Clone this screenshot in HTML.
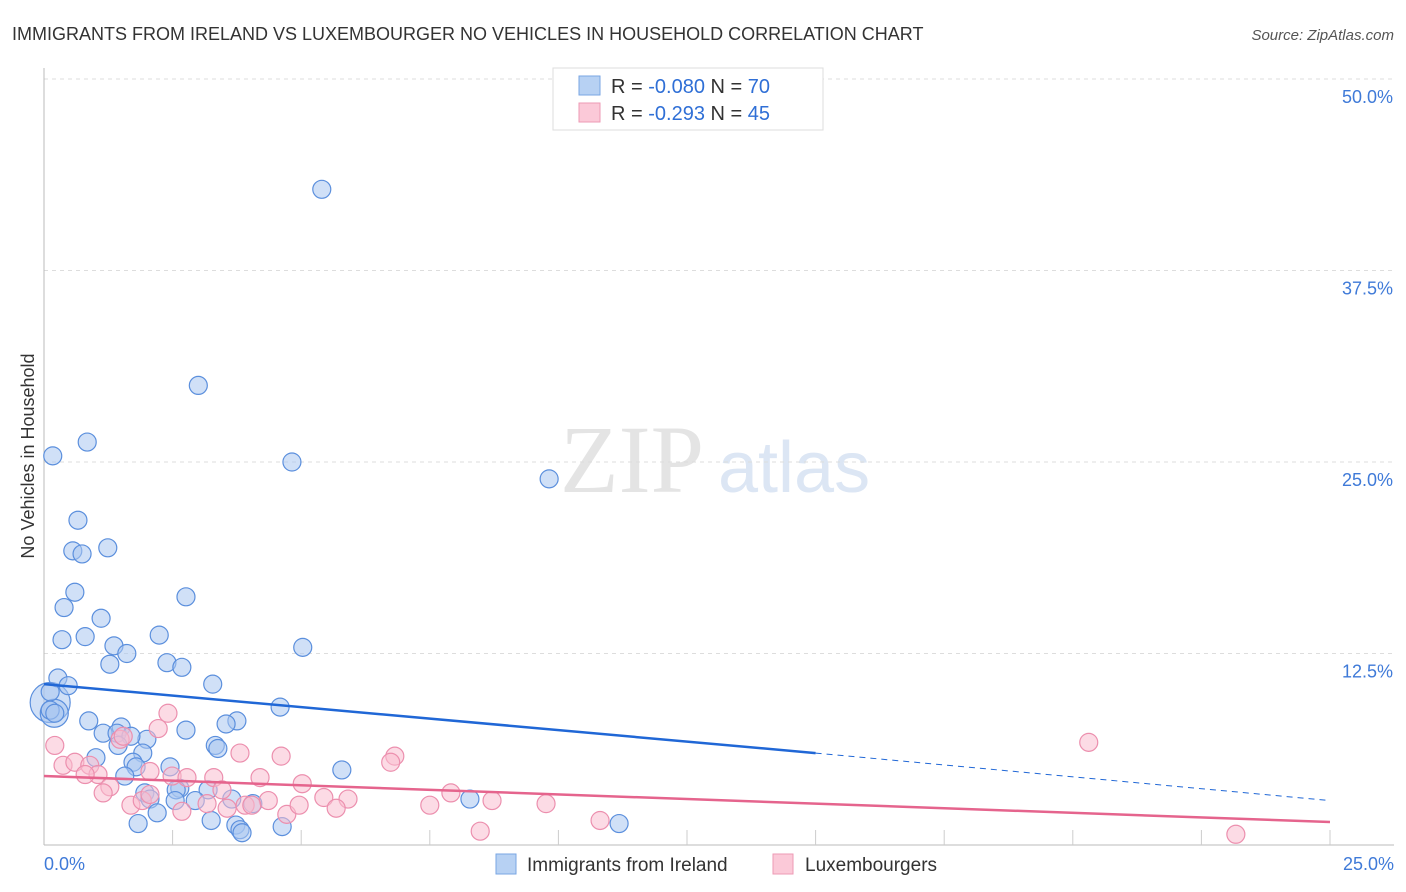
<!DOCTYPE html>
<html><head><meta charset="utf-8"><style>
body{margin:0;background:#fff;font-family:"Liberation Sans",sans-serif;}
svg{display:block}
</style></head><body>
<svg id="chart" width="1406" height="892" xmlns="http://www.w3.org/2000/svg">
<text x="12" y="40" font-size="18" fill="#333">IMMIGRANTS FROM IRELAND VS LUXEMBOURGER NO VEHICLES IN HOUSEHOLD CORRELATION CHART</text>
<text x="1394" y="40" font-size="15" fill="#555" font-style="italic" text-anchor="end">Source: ZipAtlas.com</text>
<text x="560" y="492" font-size="96" fill="#e4e4e4" font-family="Liberation Serif,serif">ZIP</text>
<text x="718" y="492" font-size="72" fill="#dce6f4">atlas</text>
<g id="grid"></g>
<g id="axes"></g>
<g id="marks"></g>
<text transform="translate(34,456) rotate(-90)" font-size="18" fill="#333" text-anchor="middle">No Vehicles in Household</text>
<g>
<rect x="553" y="68" width="270" height="62" fill="#fff" stroke="#ddd"/>
<rect x="579" y="76" width="21" height="19" fill="#b7d1f3" stroke="#79a6e3"/>
<rect x="579" y="103" width="21" height="19" fill="#fbc9d8" stroke="#ee9ab4"/>
<text x="611" y="93" font-size="20" fill="#333">R = <tspan fill="#2f6fd6">-0.080</tspan>   N = <tspan fill="#2f6fd6">70</tspan></text>
<text x="611" y="120" font-size="20" fill="#333">R =  <tspan fill="#2f6fd6">-0.293</tspan>   N = <tspan fill="#2f6fd6">45</tspan></text>
</g>
<g>
<rect x="496" y="854" width="20" height="20" fill="#b7d1f3" stroke="#79a6e3"/>
<text x="527" y="871" font-size="19" fill="#333">Immigrants from Ireland</text>
<rect x="773" y="854" width="20" height="20" fill="#fbc9d8" stroke="#ee9ab4"/>
<text x="805" y="871" font-size="19" fill="#333">Luxembourgers</text>
</g>
</svg>
<script>
const yTicks=[12.5,25,37.5,50];
const yTickLabels=["12.5%","25.0%","37.5%","50.0%"];
const xTickLabels=["0.0%","25.0%"];
const blueX=[5.4,3.0,0.84,0.17,4.82,9.82,0.66,0.56,0.74,1.24,0.6,2.76,0.39,1.11,0.35,0.8,2.24,1.36,5.03,1.61,1.28,2.39,2.68,3.28,0.27,0.47,0.12,4.59,0.12,0.21,0.87,1.5,3.75,3.54,1.15,1.42,2.0,2.76,3.33,3.38,1.01,1.92,1.73,1.79,1.57,2.45,5.79,2.64,2.57,3.19,1.96,2.06,2.55,3.65,4.06,2.94,8.28,2.2,3.25,1.83,4.63,3.73,3.81,3.85,11.18,1.69,1.44];
const blueY=[42.8,30.0,26.3,25.4,25.0,23.9,21.2,19.2,19.0,19.4,16.5,16.2,15.5,14.8,13.4,13.6,13.7,13.0,12.9,12.5,11.8,11.9,11.6,10.5,10.9,10.4,10.0,9.0,8.8,8.6,8.1,7.7,8.1,7.9,7.3,7.3,6.9,7.5,6.5,6.3,5.7,6.0,5.4,5.1,4.5,5.1,4.9,3.7,3.6,3.6,3.4,3.0,2.9,3.0,2.7,2.9,3.0,2.1,1.6,1.4,1.2,1.3,1.0,0.8,1.4,7.1,6.5];
const pinkX=[0.21,0.37,0.6,0.89,1.05,0.8,1.28,1.15,1.48,2.41,2.22,2.06,2.49,2.78,3.3,3.81,4.61,4.2,5.02,6.82,6.74,5.44,5.91,3.17,3.56,3.91,4.36,4.72,4.96,5.68,7.5,7.91,8.71,8.48,9.76,10.81,20.31,23.17,1.69,1.91,2.68,3.46,4.04,2.06,1.54];
const pinkY=[6.5,5.2,5.4,5.2,4.6,4.6,3.8,3.4,6.9,8.6,7.6,4.8,4.5,4.4,4.4,6.0,5.8,4.4,4.0,5.8,5.4,3.1,3.0,2.7,2.4,2.6,2.9,2.0,2.6,2.4,2.6,3.4,2.9,0.9,2.7,1.6,6.7,0.7,2.6,2.9,2.2,3.6,2.6,3.3,7.1];
const bigBlue=[[0.12,9.3,20],[0.2,8.6,14]];
const blueTrend=[0,10.5,15,6.0,25,2.9];
const pinkTrend=[0,4.5,25,1.5];
const X=v=>44+v/25*1286, Y=v=>845-v/50*766;
const NS="http://www.w3.org/2000/svg";
function mk(t,a,p){const e=document.createElementNS(NS,t);for(const k in a)e.setAttribute(k,a[k]);p.appendChild(e);return e;}
const grid=document.getElementById('grid'),axes=document.getElementById('axes'),marks=document.getElementById('marks');
yTicks.forEach((t,i)=>{
  const l=mk('line',{x1:44,x2:1394,y1:Y(t),y2:Y(t),stroke:'#ddd','stroke-dasharray':'4,4'},grid);
  
  
  const tx=mk('text',{x:1393,y:Y(t)+24,'font-size':18,fill:'#3f7ad8','text-anchor':'end'},axes);
  tx.textContent=yTickLabels[i];
  
  
});
const ya=mk('line',{x1:44,x2:44,y1:68,y2:845,stroke:'#bbb'},axes);


const xa=mk('line',{x1:44,x2:1394,y1:845,y2:845,stroke:'#bbb'},axes);


for(let i=1;i<=10;i++){const v=i*2.5;const t=mk('line',{x1:X(v),x2:X(v),y1:830,y2:845,stroke:'#ccc'},axes);
  
  }
[[0,'start',44],[25,'end',1394]].forEach((d,i)=>{const t=mk('text',{x:d[2],y:870,'font-size':18,fill:'#3f7ad8','text-anchor':d[1]},axes);t.textContent=xTickLabels[i];
  
  });
function dot(x,y,r,fill,stroke,name){const c=mk('circle',{cx:X(x),cy:Y(y),r:r,fill:fill,stroke:stroke,'stroke-width':1.2,'fill-opacity':0.55},marks);
  
  }
bigBlue.forEach(b=>dot(b[0],b[1],b[2],'#a9c7f0','#5b8fdd','blue-point'));
blueX.forEach((x,i)=>dot(x,blueY[i],9,'#a9c7f0','#5b8fdd','blue-point'));
pinkX.forEach((x,i)=>dot(x,pinkY[i],9,'#f9bdd0','#ec8fae','pink-point'));
const b1=mk('line',{x1:X(blueTrend[0]),y1:Y(blueTrend[1]),x2:X(blueTrend[2]),y2:Y(blueTrend[3]),stroke:'#2067d6','stroke-width':2.5},marks);


const b2=mk('line',{x1:X(blueTrend[2]),y1:Y(blueTrend[3]),x2:X(blueTrend[4]),y2:Y(blueTrend[5]),stroke:'#2067d6','stroke-width':1,'stroke-dasharray':'6,5'},marks);


const p1=mk('line',{x1:X(pinkTrend[0]),y1:Y(pinkTrend[1]),x2:X(pinkTrend[2]),y2:Y(pinkTrend[3]),stroke:'#e5648d','stroke-width':2.5},marks);


</script>
</body></html>
